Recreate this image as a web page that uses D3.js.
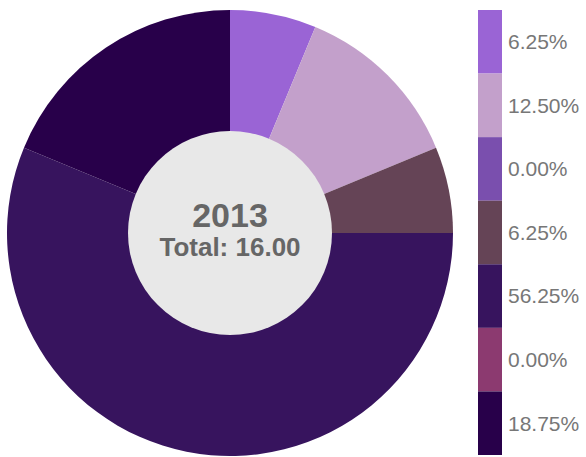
<!DOCTYPE html>
<html>
<head>
<meta charset="utf-8">
<script src="https://cdn.jsdelivr.net/npm/d3@7"></script>
<style>
  body { margin: 0; background: #fff; }
  text { font-family: "Liberation Sans", Arial, sans-serif; }
</style>
</head>
<body>
<script>
// slice counts, clockwise from 12 o'clock
var categories = ["s1", "s2", "s3", "s4", "s5", "s6", "s7"];
var values = [1, 2, 0, 1, 9, 0, 3];
var colors = ["#9a64d5", "#c3a0cb", "#7a4fae", "#654456", "#37145e", "#8c3a70", "#28004a"];
var year = "2013";

function init() {
    var w = 586;
    var h = 457;
    var cx = 230, cy = 233;
    var outerRadius = 223;
    var innerRadius = 102;

    var total = d3.sum(values);
    var fmt = d3.format(".2f");

    var color = d3.scaleOrdinal().domain(categories).range(colors);

    var svg = d3.select("body")
        .append("svg")
        .attr("width", w)
        .attr("height", h);

    var pie = d3.pie()
        .sort(null)
        .value(function(d, i) { return values[i]; });

    var arc = d3.arc()
        .innerRadius(0)
        .outerRadius(outerRadius);

    var g = svg.append("g")
        .attr("transform", "translate(" + cx + "," + cy + ")");

    g.selectAll("path.slice")
        .data(pie(categories))
        .enter()
        .append("path")
        .attr("class", "slice")
        .attr("fill", function(d) { return color(d.data); })
        .attr("d", arc);

    // centre hole
    g.append("circle")
        .attr("r", innerRadius)
        .attr("fill", "#e8e8e8");

    g.append("text")
        .attr("text-anchor", "middle")
        .attr("y", -6)
        .attr("fill", "#666")
        .attr("font-weight", "bold")
        .attr("font-size", 34)
        .text(year);

    g.append("text")
        .attr("text-anchor", "middle")
        .attr("y", 23)
        .attr("fill", "#666")
        .attr("font-weight", "bold")
        .attr("font-size", 26)
        .text("Total: " + fmt(total));

    // legend
    var ly = d3.scaleBand()
        .domain(categories)
        .range([10, 455]);

    var legend = svg.selectAll("g.legend")
        .data(categories)
        .enter()
        .append("g")
        .attr("class", "legend")
        .attr("transform", function(d) { return "translate(478," + ly(d) + ")"; });

    legend.append("rect")
        .attr("width", 24)
        .attr("height", ly.bandwidth())
        .attr("fill", function(d) { return color(d); });

    legend.append("text")
        .attr("x", 30)
        .attr("y", ly.bandwidth() / 2)
        .attr("dy", "0.35em")
        .attr("fill", "#777")
        .attr("font-size", 21)
        .text(function(d, i) { return fmt(values[i] / total * 100) + "%"; });
}

window.onload = init;
</script>
</body>
</html>
